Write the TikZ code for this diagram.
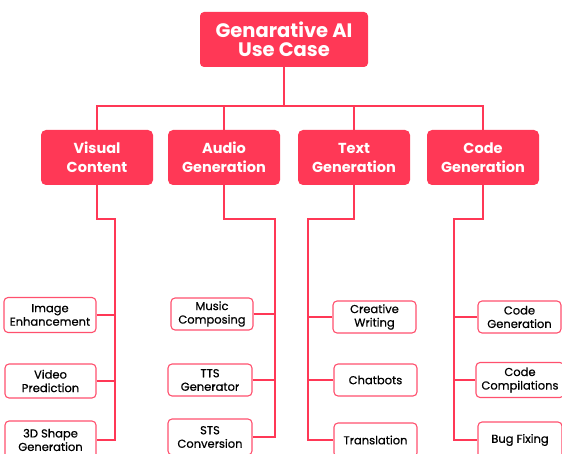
\documentclass[tikz,border=0pt]{standalone}
\usepackage{fontspec}
\setmainfont{Poppins}
\newfontfamily\medfont{Poppins}[FakeBold=0.6]
\usepackage{tikz}
\usetikzlibrary{positioning,calc}
\definecolor{rose}{RGB}{255,56,86}
\definecolor{roseline}{RGB}{255,80,110}

\begin{document}
\begin{tikzpicture}[x=1pt,y=-1pt,
  topbox/.style={fill=rose,rounded corners=4pt,text=white,font=\bfseries\fontsize{19.5}{19}\selectfont,align=center,minimum width=168pt,minimum height=55pt,inner sep=0pt},
  catbox/.style={fill=rose,rounded corners=5pt,text=white,font=\bfseries\fontsize{14.5}{19}\selectfont,align=center,minimum width=112pt,minimum height=55pt,inner sep=0pt},
  leafbox/.style={draw=roseline,line width=1.1pt,fill=white,rounded corners=4pt,font=\medfont\fontsize{11.5}{13.5}\selectfont,align=center,minimum width=83pt,minimum height=32pt,inner sep=0pt},
  wire/.style={draw=rose,line width=1.8pt}]
\useasboundingbox (0,0) rectangle (562,454);
\node[topbox] (root) at (284,39.5) {Genarative AI\\Use Case};
\node[catbox] (visual) at (97,157.5) {Visual\\Content};
\node[catbox] (audio) at (224,157.5) {Audio\\Generation};
\node[catbox] (textgen) at (354,157.5) {Text\\Generation};
\node[catbox] (codegen) at (483,157.5) {Code\\Generation};
% top bus
\coordinate (bus) at (284,106);
\draw[wire] (root.south) -- (bus);
\draw[wire] (visual.north) -- (visual.north |- bus) -- (codegen.north |- bus) -- (codegen.north);
\draw[wire] (audio.north) -- (audio.north |- bus);
\draw[wire] (textgen.north) -- (textgen.north |- bus);
% visual content
\node[leafbox,minimum width=92pt,minimum height=35pt] (image) at (50,315) {Image\\Enhancement};
\node[leafbox,minimum width=91pt,minimum height=34pt] (video) at (50.5,381) {Video\\Prediction};
\node[leafbox,minimum width=91pt,minimum height=38pt] (shape) at (50.5,440) {3D Shape\\Generation};
\coordinate (vbus) at (115,219);
\draw[wire] (visual.south) |- (vbus) |- (shape.east);
\draw[wire] (image.east) -- (image.east -| vbus);
\draw[wire] (video.east) -- (video.east -| vbus);
% audio generation
\node[leafbox,minimum width=82pt] (music) at (212,314) {Music\\Composing};
\node[leafbox,minimum width=84pt] (tts) at (210,380) {TTS\\Generator};
\node[leafbox,minimum width=84pt,minimum height=36pt] (sts) at (210,437) {STS\\Conversion};
\coordinate (abus) at (275,219);
\draw[wire] (audio.south) |- (abus) |- (sts.east);
\draw[wire] (music.east) -- (music.east -| abus);
\draw[wire] (tts.east) -- (tts.east -| abus);
% text generation
\node[leafbox] (creative) at (374.5,317) {Creative\\Writing};
\node[leafbox] (chat) at (375.5,380) {Chatbots};
\node[leafbox,minimum height=34pt] (trans) at (375.5,440) {Translation};
\coordinate (tbus) at (308,219);
\draw[wire] (textgen.south) |- (tbus) |- (trans.west);
\draw[wire] (creative.west) -- (creative.west -| tbus);
\draw[wire] (chat.west) -- (chat.west -| tbus);
% code generation
\node[leafbox] (codeleaf) at (519.5,317) {Code\\Generation};
\node[leafbox,minimum width=88pt,minimum height=35pt] (compile) at (520,380) {Code\\Compilations};
\node[leafbox,minimum width=84pt,minimum height=36pt] (bugs) at (520,440) {Bug Fixing};
\coordinate (cbus) at (454,219);
\draw[wire] (codegen.south) |- (cbus) |- (bugs.west);
\draw[wire] (codeleaf.west) -- (codeleaf.west -| cbus);
\draw[wire] (compile.west) -- (compile.west -| cbus);
\end{tikzpicture}
\end{document}
